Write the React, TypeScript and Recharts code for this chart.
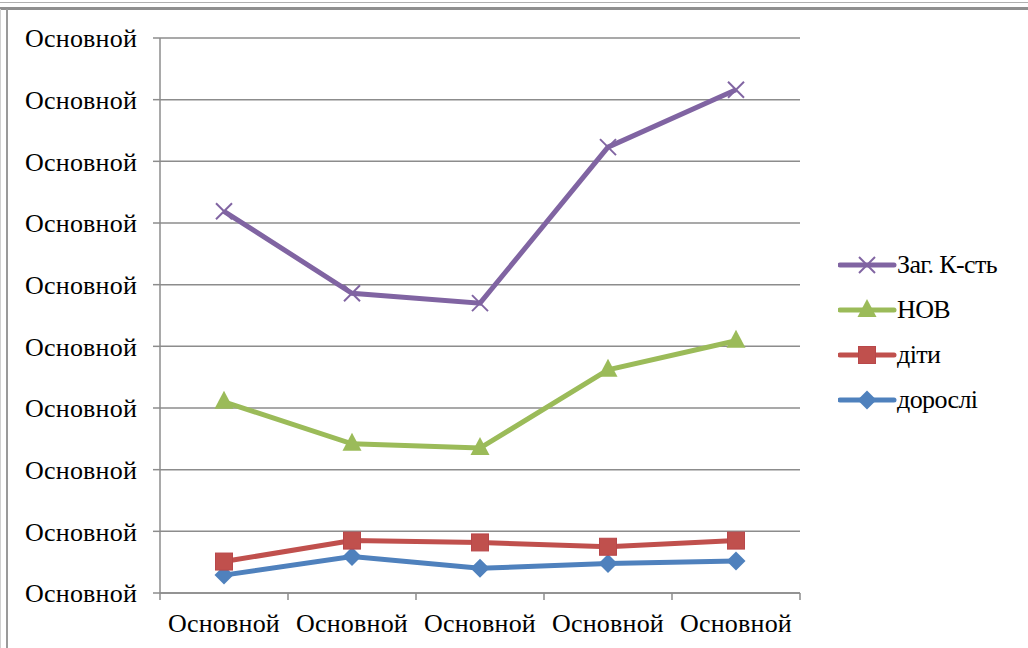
import React from "react";
import { LineChart, Line, XAxis, YAxis, CartesianGrid, Legend } from "recharts";

const categories = ["Основной", "Основной", "Основной", "Основной", "Основной"];
const yTicks = [0, 1, 2, 3, 4, 5, 6, 7, 8, 9];
const yTickLabel = "Основной";
const dorosli = [0.29, 0.59, 0.4, 0.48, 0.52];
const dity = [0.51, 0.85, 0.82, 0.75, 0.85];
const nov = [3.1, 2.42, 2.35, 3.62, 4.09];
const zag = [6.19, 4.86, 4.7, 7.23, 8.16];

const seriesNames = {
  dorosli: "дорослі",
  dity: "діти",
  nov: "НОВ",
  zag: "Заг. К-сть",
};

const colors = {
  dorosli: "#4F81BD",
  dity: "#C0504D",
  nov: "#9BBB59",
  zag: "#8064A2",
};

const data = categories.map((c, i) => ({
  x: i + 0.5,
  name: c,
  dorosli: dorosli[i],
  dity: dity[i],
  nov: nov[i],
  zag: zag[i],
}));

const FONT = "'Liberation Serif', 'Times New Roman', serif";
const FS = 26;

const CrossDot = (props: any) => {
  const { cx, cy } = props;
  if (cx == null || cy == null) return null;
  const r = 8;
  return (
    <g>
      <line x1={cx - r} y1={cy - r} x2={cx + r} y2={cy + r} stroke={colors.zag} strokeWidth={2} />
      <line x1={cx - r} y1={cy + r} x2={cx + r} y2={cy - r} stroke={colors.zag} strokeWidth={2} />
    </g>
  );
};

const TriDot = (props: any) => {
  const { cx, cy } = props;
  if (cx == null || cy == null) return null;
  return (
    <polygon
      points={`${cx},${cy - 11} ${cx - 9.5},${cy + 7} ${cx + 9.5},${cy + 7}`}
      fill={colors.nov}
    />
  );
};

const SquareDot = (props: any) => {
  const { cx, cy } = props;
  if (cx == null || cy == null) return null;
  return <rect x={cx - 8.5} y={cy - 8.5} width={17} height={17} fill={colors.dity} stroke="#B8474A" strokeWidth={1} />;
};

const DiamondDot = (props: any) => {
  const { cx, cy } = props;
  if (cx == null || cy == null) return null;
  const r = 9.5;
  return <polygon points={`${cx},${cy - r} ${cx + r},${cy} ${cx},${cy + r} ${cx - r},${cy}`} fill={colors.dorosli} />;
};

const legendItems: { key: keyof typeof colors; Icon: any }[] = [
  { key: "zag", Icon: CrossDot },
  { key: "nov", Icon: TriDot },
  { key: "dity", Icon: SquareDot },
  { key: "dorosli", Icon: DiamondDot },
];

const LegendContent = () => (
  <div style={{ fontFamily: FONT, fontSize: FS, color: "#000" }}>
    {legendItems.map(({ key, Icon }) => (
      <div key={key} style={{ display: "flex", alignItems: "center", height: 45 }}>
        <svg width={59} height={30} style={{ display: "block" }}>
          <line x1={2} y1={15} x2={56} y2={15} stroke={colors[key]} strokeWidth={5} strokeLinecap="round" />
          <Icon cx={29} cy={15} />
        </svg>
        <span style={{ lineHeight: "30px", whiteSpace: "nowrap", letterSpacing: -0.6 }}>{seriesNames[key]}</span>
      </div>
    ))}
  </div>
);

const tickStyle = { fill: "#000", fontSize: FS, fontFamily: FONT, letterSpacing: 0.2 };

export default function App() {
  return (
    <div style={{ position: "absolute", left: 0, top: 0, width: 1028, height: 648, background: "#fff", overflow: "hidden" }}>
      {/* frame lines */}
      <div style={{ position: "absolute", left: 0, top: 2, width: 1028, height: 1, background: "#b0b0b0" }} />
      <div style={{ position: "absolute", left: 0, top: 7, width: 1028, height: 3, background: "#909090" }} />
      <div style={{ position: "absolute", left: 6, top: 9, width: 2, height: 639, background: "#9a9a9a" }} />
      <div style={{ position: "absolute", left: 0, top: 9, width: 1, height: 639, background: "#d0d0d0" }} />
      <div style={{ position: "absolute", left: 0, top: 0 }}>
        <LineChart
          width={1028}
          height={648}
          data={data}
          margin={{ top: 38, right: 228, bottom: 0, left: 0 }}
          style={{ fontFamily: FONT }}
        >
          <CartesianGrid horizontal vertical={false} stroke="#8c8c8c" strokeWidth={1.5} />
          <XAxis
            xAxisId={0}
            dataKey="x"
            type="number"
            domain={[0, 5]}
            ticks={[0, 1, 2, 3, 4, 5]}
            tickFormatter={() => ""}
            height={1}
            tickSize={7}
            axisLine={{ stroke: "#8c8c8c", strokeWidth: 1.5 }}
            tickLine={{ stroke: "#8c8c8c", strokeWidth: 1.5 }}
          />
          <XAxis
            xAxisId="lab"
            dataKey="x"
            type="number"
            domain={[0, 5]}
            ticks={[0.5, 1.5, 2.5, 3.5, 4.5]}
            tickFormatter={(v: number) => categories[Math.floor(v)]}
            height={54}
            tickSize={0}
            tickMargin={20}
            axisLine={false}
            tickLine={false}
            tick={tickStyle}
          />
          <YAxis
            type="number"
            domain={[0, 9]}
            ticks={yTicks}
            tickFormatter={() => yTickLabel}
            width={160}
            tickSize={7}
            tickMargin={16}
            axisLine={{ stroke: "#8c8c8c", strokeWidth: 1.5 }}
            tickLine={{ stroke: "#8c8c8c", strokeWidth: 1.5 }}
            tick={tickStyle}
            interval={0}
          />
          <Legend
            layout="vertical"
            align="center"
            verticalAlign="middle"
            content={<LegendContent />}
            wrapperStyle={{ left: 838, top: 242, width: 190 }}
          />
          <Line dataKey="dorosli" name={seriesNames.dorosli} stroke={colors.dorosli} strokeWidth={5} dot={<DiamondDot />} activeDot={false} isAnimationActive={false} />
          <Line dataKey="dity" name={seriesNames.dity} stroke={colors.dity} strokeWidth={5} dot={<SquareDot />} activeDot={false} isAnimationActive={false} />
          <Line dataKey="nov" name={seriesNames.nov} stroke={colors.nov} strokeWidth={5} dot={<TriDot />} activeDot={false} isAnimationActive={false} />
          <Line dataKey="zag" name={seriesNames.zag} stroke={colors.zag} strokeWidth={5} dot={<CrossDot />} activeDot={false} isAnimationActive={false} />
        </LineChart>
      </div>
    </div>
  );
}
